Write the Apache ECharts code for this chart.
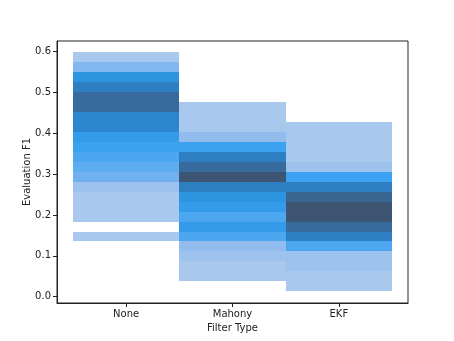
<!DOCTYPE html>
<html>
<head>
<meta charset="utf-8">
<script src="https://cdn.jsdelivr.net/npm/echarts@6/dist/echarts.min.js"></script>
<style>
  html, body { margin: 0; background: #fff; }
  #main { width: 454px; height: 341px; }
</style>
</head>
<body>
<div id="main"></div>
<script>
var filterTypes = ["None", "Mahony", "EKF"];
var binStart = 0.0135;
var binWidth = 0.02435;
// counts per bin, bin 0 is the lowest
var noneCounts = [0, 0, 0, 0, 0, 1, 0, 1, 1, 1, 2, 5, 6, 7, 8, 9, 12, 12, 16, 16, 13, 10, 4, 1];
var mahonyCounts = [0, 1, 1, 2, 3, 7, 9, 7, 9, 10, 13, 20, 16, 13, 8, 3, 1, 1, 1];
var ekfCounts = [1, 1, 2, 2, 7, 13, 16, 20, 20, 17, 13, 8, 2, 1, 1, 1, 1];
var yTicks = [0, 0.1, 0.2, 0.3, 0.4, 0.5, 0.6];

var cells = [];
[noneCounts, mahonyCounts, ekfCounts].forEach(function (counts, i) {
  counts.forEach(function (c, b) {
    if (c > 0) cells.push([i, b, c]);
  });
});

var chart = echarts.init(document.getElementById("main"));
var font = "DejaVu Sans";

chart.setOption({
  animation: false,
  grid: { left: 57, right: 46, top: 41, bottom: 38, show: true, borderColor: "#222", borderWidth: 1 },
  visualMap: {
    show: false,
    type: "continuous",
    dimension: 2,
    min: 1,
    max: 20,
    seriesIndex: 0,
    inRange: {
      color: ["#a8c8ee", "#8fbaee", "#62aef0", "#38a1f0", "#2a90dc", "#2e80c4", "#356fa6", "#3a6289", "#3d5572"],
    },
  },
  xAxis: {
    type: "value",
    min: -0.65,
    max: 2.65,
    name: "Filter Type",
    nameLocation: "middle",
    nameGap: 20,
    nameMoveOverlap: false,
    nameTextStyle: { fontFamily: font, fontSize: 10, color: "#222" },
    axisLine: { onZero: false, lineStyle: { color: "#222" } },
    axisTick: { show: true, length: 4, customValues: [0, 1, 2], lineStyle: { color: "#222" } },
    axisLabel: {
      customValues: [0, 1, 2],
      fontFamily: font,
      fontSize: 10,
      color: "#222",
      margin: 6,
      formatter: function (v) { return filterTypes[Math.round(v)]; },
    },
    splitLine: { show: false },
  },
  yAxis: {
    type: "value",
    min: -0.0154,
    max: 0.626,
    name: "Evaluation F1",
    nameLocation: "middle",
    nameGap: 25,
    nameMoveOverlap: false,
    nameTextStyle: { fontFamily: font, fontSize: 10, color: "#222" },
    axisLine: { show: true, onZero: false, lineStyle: { color: "#222" } },
    axisTick: { show: true, length: 4, customValues: yTicks, lineStyle: { color: "#222" } },
    axisLabel: {
      customValues: yTicks,
      fontFamily: font,
      fontSize: 10,
      color: "#222",
      margin: 6,
      formatter: function (v) { return v.toFixed(1); },
    },
    splitLine: { show: false },
  },
  series: [
    {
      type: "custom",
      encode: { x: 0, y: 1 },
      data: cells,
      renderItem: function (params, api) {
        var x = api.value(0);
        var b = api.value(1);
        var p0 = api.coord([x - 0.5, binStart + b * binWidth]);
        var p1 = api.coord([x + 0.5, binStart + (b + 1) * binWidth]);
        var left = Math.round(p0[0]), right = Math.round(p1[0]);
        var top = Math.round(p1[1]), bottom = Math.round(p0[1]);
        return {
          type: "rect",
          shape: { x: left, y: top, width: right - left, height: bottom - top },
          style: { fill: api.visual("color") },
        };
      },
    },
  ],
});
</script>
</body>
</html>
